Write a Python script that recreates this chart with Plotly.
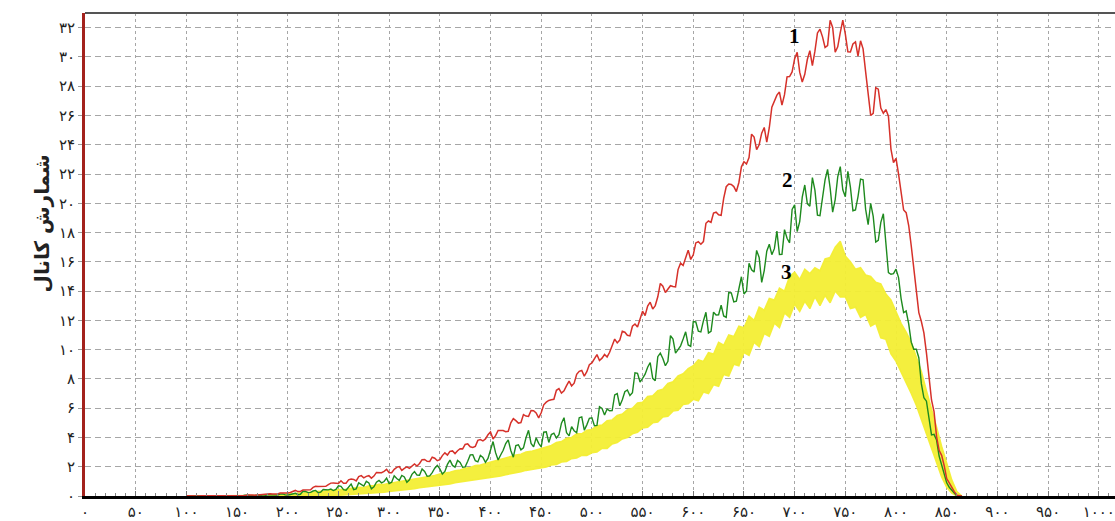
import plotly.graph_objects as go

# Channel grids (x axis): spectra 1 and 2 every 2.5 channels, band 3 every 5 channels
channels_fine = [100 + 2.5 * k for k in range(307)]
channels = list(range(100, 866, 5))

# Spectrum 1 (red)
counts_1 = [
    0.01, 0, 0, 0.01, 0, 0, 0.02, 0.02, 0, 0, 0, 0.01, 0.01, 0, 0, 0.02, 0.03, 0.02, 0, 0,
    0.02, 0.03, 0.01, 0.02, 0.06, 0.09, 0.07, 0.05, 0.07, 0.1, 0.1, 0.09, 0.14, 0.16, 0.13, 0.12, 0.14, 0.2, 0.19, 0.17,
    0.21, 0.24, 0.32, 0.38, 0.3, 0.31, 0.41, 0.43, 0.42, 0.43, 0.59, 0.66, 0.65, 0.66, 0.66, 0.66, 0.78, 0.88, 0.89, 0.85,
    0.85, 1.04, 0.87, 0.87, 1.1, 1.16, 1.13, 1.03, 1.33, 1.39, 1.24, 1.34, 1.39, 1.22, 1.36, 1.61, 1.61, 1.59, 1.68, 1.82,
    1.59, 1.59, 1.82, 1.96, 2.01, 1.75, 1.89, 1.99, 1.89, 2.06, 2.19, 2.05, 2.22, 2.48, 2.5, 2.37, 2.36, 2.65, 2.58, 2.41,
    2.48, 2.76, 2.95, 2.8, 3.05, 3.08, 2.9, 3.09, 3.23, 3.22, 3.52, 3.56, 3.36, 3.32, 3.39, 3.8, 3.85, 3.76, 3.9, 4.18,
    4.37, 3.9, 4.12, 4.48, 4.48, 4.47, 4.39, 4.42, 5.0, 5.29, 5.15, 4.98, 5.02, 5.56, 5.46, 5.44, 5.84, 5.83, 5.68, 5.34,
    5.69, 6.23, 6.41, 6.53, 6.57, 6.61, 7.22, 7.34, 7.03, 7.18, 7.54, 7.85, 7.52, 7.71, 8.31, 8.52, 8.58, 8.19, 8.49, 8.97,
    9.09, 9.41, 9.66, 9.26, 9.42, 9.67, 9.5, 9.82, 10.34, 10.72, 10.46, 10.65, 11.26, 11.19, 10.98, 10.94, 11.6, 11.75, 11.54, 12.12,
    12.63, 12.33, 12.98, 13.24, 12.77, 13.01, 13.61, 14.52, 14.34, 13.9, 14.18, 14.37, 14.31, 14.29, 15.47, 15.91, 15.75, 16.34, 16.8, 16.16,
    16.48, 17.29, 17.37, 17.2, 17.38, 18.63, 18.79, 18.7, 19.33, 19.39, 19.21, 19.17, 20.33, 21.13, 21.32, 21.29, 21.14, 20.8, 21.42, 22.49,
    22.84, 22.68, 23.12, 24.72, 24.52, 23.66, 24.0, 24.79, 25.18, 24.17, 25.16, 26.57, 26.98, 27.39, 27.6, 26.71, 27.42, 28.64, 28.66, 28.97,
    29.88, 30.32, 28.96, 28.29, 28.81, 29.82, 30.43, 29.41, 30.39, 31.64, 31.89, 31.37, 30.65, 30.78, 32.5, 32.01, 30.32, 30.69, 31.66, 32.51,
    31.55, 30.35, 30.34, 30.88, 31.02, 30.06, 31.1, 30.55, 29.0, 27.6, 26.0, 26.15, 27.9, 27.8, 26.5, 26.15, 26.4, 25.95, 23.7, 22.78,
    23.06, 21.99, 20.72, 19.54, 19.36, 18.48, 17.1, 15.57, 13.94, 12.53, 11.92, 11.15, 9.78, 8.02, 6.56, 5.76, 4.06, 3.12, 2.78, 2.08,
    1.18, 0.9, 0.58, 0.3, 0.05, 0.02, 0,
]

# Spectrum 2 (green)
counts_2 = [
    0, 0, 0, 0, 0, 0, 0, 0, 0, 0, 0, 0, 0, 0, 0, 0, 0, 0, 0, 0,
    0.01, 0, 0, 0.06, 0.07, 0.03, 0.02, 0.04, 0.06, 0.06, 0.01, 0.02, 0.09, 0.09, 0.08, 0.06, 0.06, 0.13, 0.14, 0.08,
    0.06, 0.1, 0.15, 0.19, 0.09, 0.12, 0.32, 0.31, 0.23, 0.25, 0.34, 0.38, 0.22, 0.27, 0.44, 0.42, 0.42, 0.47, 0.37, 0.45,
    0.7, 0.66, 0.43, 0.4, 0.6, 0.82, 0.44, 0.49, 0.9, 0.76, 0.68, 1.0, 0.89, 0.49, 0.63, 0.94, 1.06, 0.9, 0.99, 1.22,
    0.85, 0.94, 1.38, 1.2, 1.07, 1.4, 1.3, 0.94, 1.11, 1.48, 1.67, 1.43, 1.42, 1.85, 1.68, 1.35, 1.37, 1.6, 1.9, 2.09,
    1.85, 1.5, 1.68, 2.16, 2.45, 2.09, 1.97, 2.43, 2.29, 1.96, 1.99, 2.37, 2.81, 2.82, 2.41, 2.33, 2.78, 2.63, 2.3, 2.57,
    3.07, 3.72, 2.96, 2.46, 2.8, 3.12, 3.58, 3.84, 3.11, 2.65, 3.44, 3.5, 3.15, 3.29, 3.98, 4.49, 3.59, 3.36, 3.97, 3.6,
    3.36, 4.36, 4.38, 3.66, 4.2, 4.29, 3.96, 4.19, 4.98, 5.35, 4.32, 4.11, 4.74, 4.46, 4.32, 5.35, 5.4, 4.5, 4.86, 5.31,
    5.34, 4.8, 4.82, 6.1, 5.98, 5.54, 5.94, 5.82, 5.84, 6.91, 7.0, 6.16, 6.58, 7.12, 7.24, 6.87, 7.06, 8.42, 8.38, 7.79,
    8.04, 8.32, 8.8, 9.12, 8.04, 7.88, 9.52, 9.76, 9.4, 8.9, 9.2, 10.96, 10.72, 9.76, 10.0, 10.26, 10.72, 11.22, 10.32, 10.22,
    11.92, 11.89, 11.26, 11.21, 11.96, 12.55, 11.14, 11.25, 12.56, 12.37, 12.38, 13.04, 12.3, 12.2, 13.9, 13.88, 13.26, 13.31, 14.16, 14.98,
    13.8, 14.01, 15.9, 15.46, 15.3, 16.78, 16.3, 14.59, 15.4, 16.72, 17.2, 16.49, 16.9, 18.1, 16.5, 16.51, 18.2, 17.61, 17.3, 19.58,
    19.9, 18.07, 18.75, 20.42, 21.25, 19.97, 19.8, 21.75, 20.9, 19.19, 19.15, 20.24, 21.6, 22.31, 21.05, 19.39, 20.25, 21.8, 22.5, 20.92,
    20.45, 22.18, 21.1, 19.49, 19.55, 20.46, 21.65, 21.61, 19.6, 18.54, 20.0, 19.1, 17.35, 17.47, 18.7, 19.28, 17.05, 15.26, 15.15, 15.19,
    15.5, 14.92, 13.49, 12.53, 12.64, 11.76, 10.51, 10.03, 10.03, 9.45, 7.66, 6.71, 6.48, 5.27, 4.17, 4.21, 3.82, 2.73, 2.17, 1.63,
    0.9, 0.6, 0.4, 0.25, 0, 0, 0,
]

# Spectrum 3 (yellow band): upper and lower edges
counts_3_high = [
    0, 0, 0, 0, 0, 0, 0, 0, 0, 0,
    0, 0.01, 0.02, 0.02, 0.04, 0.04, 0.06, 0.07, 0.09, 0.1,
    0.15, 0.14, 0.2, 0.19, 0.26, 0.25, 0.32, 0.3, 0.4, 0.37,
    0.45, 0.42, 0.5, 0.56, 0.6, 0.58, 0.7, 0.72, 0.8, 0.78,
    0.88, 0.92, 0.98, 1.05, 1.08, 1.15, 1.2, 1.3, 1.32, 1.4,
    1.5, 1.55, 1.62, 1.72, 1.78, 1.9, 1.95, 2.08, 2.12, 2.22,
    2.32, 2.4, 2.5, 2.62, 2.68, 2.8, 2.86, 3.0, 3.05, 3.15,
    3.25, 3.4, 3.45, 3.65, 3.72, 3.95, 4.0, 4.25, 4.25, 4.5,
    4.55, 4.8, 4.85, 5.15, 5.2, 5.5, 5.6, 5.9, 6.0, 6.35,
    6.4, 6.8, 6.85, 7.2, 7.3, 7.7, 7.8, 8.2, 8.35, 8.7,
    8.9, 9.3, 9.2, 9.8, 9.7, 10.5, 10.3, 11.0, 10.9, 11.6,
    11.5, 12.3, 12.0, 12.9, 12.7, 13.5, 13.4, 14.2, 14.0, 15.0,
    15.3, 14.8, 15.5, 15.2, 15.6, 15.4, 16.2, 16.3, 17.0, 17.4,
    16.4, 16.0, 15.5, 15.6, 15.1, 15.0, 14.6, 14.5, 13.8, 13.4,
    12.6, 11.8, 11.2, 10.5, 9.5, 8.5, 7.2, 6.0, 4.7, 3.4,
    2.2, 1.1, 0.3, 0,
]
counts_3_low = [
    0, 0, 0, 0, 0, 0, 0, 0, 0, 0,
    0, 0, 0, 0, 0, 0, 0, 0, 0, 0,
    0, 0, 0, 0, 0.01, 0.01, 0.02, 0.02, 0.03, 0.04,
    0.05, 0.06, 0.08, 0.1, 0.12, 0.15, 0.18, 0.2, 0.24, 0.26,
    0.3, 0.33, 0.38, 0.4, 0.46, 0.5, 0.56, 0.6, 0.65, 0.68,
    0.72, 0.78, 0.82, 0.9, 0.95, 1.0, 1.05, 1.12, 1.15, 1.2,
    1.22, 1.3, 1.36, 1.45, 1.5, 1.6, 1.65, 1.75, 1.8, 1.85,
    1.92, 1.98, 2.12, 2.15, 2.32, 2.36, 2.55, 2.6, 2.78, 2.76,
    2.95, 3.0, 3.25, 3.25, 3.55, 3.65, 3.9, 4.0, 4.25, 4.35,
    4.65, 4.7, 5.0, 5.05, 5.4, 5.45, 5.8, 5.85, 6.25, 6.3,
    6.6, 6.5, 7.1, 7.0, 7.6, 7.5, 8.3, 8.2, 9.0, 8.9,
    9.8, 9.6, 10.5, 10.2, 11.1, 10.9, 11.8, 11.5, 12.5, 12.2,
    13.1, 12.6, 13.3, 12.8, 13.6, 13.0, 13.7, 13.2, 14.0, 13.6,
    13.6, 12.8, 12.9, 12.2, 12.4, 11.6, 11.8, 10.8, 10.7, 9.7,
    9.2, 8.5, 7.7, 7.0, 6.2, 5.2, 4.2, 3.2, 2.2, 1.3,
    0.6, 0.2, 0, 0,
]

# Axis ticks
x_ticks = list(range(0, 1001, 50))
y_ticks = list(range(0, 33, 2))

# Curve labels: (text, channel, count)
curve_labels = [("1", 700, 31.4), ("2", 693, 21.6), ("3", 692, 15.3)]

y_title = "شمارش کانال"

FA_DIGITS = str.maketrans("0123456789", "۰۱۲۳۴۵۶۷۸۹")


def fa(n):
    return str(n).translate(FA_DIGITS)


YELLOW = "rgba(243,238,52,0.95)"

fig = go.Figure()
fig.add_trace(go.Scatter(x=channels, y=counts_3_low, mode="lines",
                         line=dict(color=YELLOW, width=1.5), hoverinfo="skip"))
fig.add_trace(go.Scatter(x=channels, y=counts_3_high, mode="lines",
                         line=dict(color=YELLOW, width=1.5),
                         fill="tonexty", fillcolor=YELLOW))
fig.add_trace(go.Scatter(x=channels_fine, y=counts_2, mode="lines",
                         line=dict(color="#1e8a1e", width=1.4)))
fig.add_trace(go.Scatter(x=channels_fine, y=counts_1, mode="lines",
                         line=dict(color="#d6312a", width=1.5)))

for text, cx, cy in curve_labels:
    fig.add_annotation(x=cx, y=cy, text=f"<b>{text}</b>", showarrow=False,
                       font=dict(family="Liberation Serif", size=21, color="black"))

fig.add_annotation(xref="paper", yref="paper", x=-0.055, y=0.565,
                   text=f"<b>{y_title}</b>", textangle=-90, showarrow=False,
                   font=dict(family="DejaVu Sans", size=20, color="#222"))

# top frame line
fig.add_shape(type="line", xref="paper", yref="paper", x0=0, x1=1, y0=1, y1=1,
              line=dict(color="#555", width=2))

fig.update_layout(
    width=1115, height=521,
    margin=dict(l=85, r=0, t=13, b=21),
    plot_bgcolor="white", paper_bgcolor="white",
    showlegend=False,
    font=dict(family="DejaVu Sans", color="#222"),
)
fig.update_xaxes(
    range=[0, 1016], tickmode="array", tickvals=x_ticks,
    ticktext=[fa(v) for v in x_ticks], tickfont=dict(size=15),
    showgrid=True, gridcolor="#a6a6a6", gridwidth=1, griddash="3px,3px",
    showline=True, linecolor="black", linewidth=3,
    ticks="inside", ticklen=5, tickcolor="#777",
    minor=dict(dtick=10, ticks="inside", ticklen=3, tickcolor="#888", showgrid=False),
    zeroline=False,
)
fig.update_yaxes(
    range=[0, 33], tickmode="array", tickvals=y_ticks,
    ticktext=[fa(v) for v in y_ticks], tickfont=dict(size=15),
    showgrid=True, gridcolor="#a6a6a6", gridwidth=1, griddash="6px,4px",
    showline=True, linecolor="#a3221c", linewidth=3,
    ticks="outside", ticklen=4, tickcolor="#999",
    zeroline=False,
)

fig.write_html("out.html")
